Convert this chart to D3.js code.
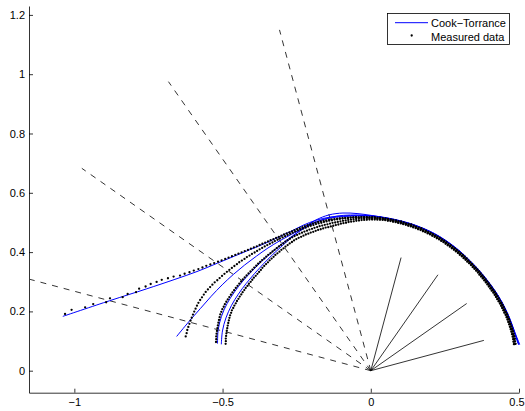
<!DOCTYPE html>
<html>
<head>
<meta charset="utf-8">
<script src="https://cdn.jsdelivr.net/npm/d3@7"></script>
<style>
  body { margin: 0; background: #fff; }
  text { font-family: "Liberation Sans", Arial, Helvetica, sans-serif; }
</style>
</head>
<body>
<div id="chart"></div>
<script>
// incidence angles (deg from normal) and the lengths of the drawn direction lines
const incidence = [15, 35, 55, 75];
const incidentLen = 0.395;
const reflectLen = 1.19;

// Cook-Torrance fit, radius every 5 deg from -80 to 80
const modelStart = -80, modelStep = 5;
const model15 = [0.512, 0.518, 0.520, 0.519, 0.516, 0.513, 0.511, 0.511, 0.513, 0.517, 0.524, 0.533, 0.541, 0.544, 0.540, 0.532, 0.524, 0.518, 0.514, 0.512, 0.510, 0.508, 0.505, 0.502, 0.499, 0.497, 0.496, 0.496, 0.497, 0.498, 0.499, 0.501, 0.506];
const model35 = [0.525, 0.533, 0.536, 0.535, 0.531, 0.527, 0.523, 0.521, 0.521, 0.523, 0.526, 0.530, 0.534, 0.535, 0.532, 0.527, 0.522, 0.518, 0.515, 0.513, 0.511, 0.509, 0.506, 0.503, 0.500, 0.498, 0.497, 0.497, 0.498, 0.499, 0.500, 0.502, 0.507];
const model55 = [0.665, 0.636, 0.612, 0.594, 0.579, 0.566, 0.555, 0.546, 0.540, 0.535, 0.532, 0.533, 0.535, 0.533, 0.528, 0.524, 0.521, 0.518, 0.515, 0.513, 0.511, 0.509, 0.506, 0.503, 0.500, 0.498, 0.497, 0.497, 0.498, 0.499, 0.500, 0.502, 0.508];
const model75 = [1.055, 0.912, 0.806, 0.729, 0.672, 0.632, 0.601, 0.577, 0.559, 0.548, 0.542, 0.541, 0.540, 0.536, 0.530, 0.526, 0.523, 0.519, 0.516, 0.514, 0.512, 0.510, 0.507, 0.504, 0.501, 0.499, 0.498, 0.498, 0.499, 0.500, 0.501, 0.503, 0.510];

// measured data, radius every 1 deg from -79.5 to 79.5
const measStart = -79.5, measStep = 1;
const meas15 = [
  0.498, 0.499, 0.501, 0.502, 0.503, 0.504, 0.505, 0.506, 0.507, 0.508,
  0.509, 0.510, 0.510, 0.511, 0.510, 0.510, 0.509, 0.509, 0.508, 0.508,
  0.507, 0.507, 0.506, 0.506, 0.505, 0.505, 0.504, 0.504, 0.504, 0.503,
  0.503, 0.503, 0.503, 0.504, 0.504, 0.504, 0.504, 0.505, 0.505, 0.505,
  0.506, 0.506, 0.506, 0.507, 0.507, 0.508, 0.508, 0.509, 0.509, 0.510,
  0.510, 0.510, 0.509, 0.509, 0.509, 0.508, 0.508, 0.507, 0.507, 0.507,
  0.506, 0.506, 0.506, 0.505, 0.505, 0.505, 0.505, 0.505, 0.506, 0.506,
  0.506, 0.507, 0.507, 0.507, 0.508, 0.508, 0.509, 0.509, 0.509, 0.510,
  0.510, 0.510, 0.510, 0.510, 0.510, 0.510, 0.509, 0.509, 0.508, 0.508,
  0.507, 0.507, 0.506, 0.506, 0.505, 0.505, 0.504, 0.504, 0.503, 0.503,
  0.502, 0.502, 0.501, 0.501, 0.500, 0.500, 0.499, 0.499, 0.498, 0.498,
  0.497, 0.496, 0.496, 0.495, 0.495, 0.494, 0.494, 0.493, 0.493, 0.492,
  0.492, 0.491, 0.491, 0.491, 0.490, 0.490, 0.490, 0.490, 0.489, 0.489,
  0.489, 0.489, 0.489, 0.489, 0.489, 0.489, 0.489, 0.490, 0.490, 0.490,
  0.490, 0.490, 0.491, 0.491, 0.491, 0.491, 0.491, 0.492, 0.492, 0.492,
  0.492, 0.492, 0.492, 0.492, 0.492, 0.492, 0.492, 0.492, 0.491, 0.491
];
const meas35 = [
  0.531, 0.532, 0.534, 0.535, 0.536, 0.537, 0.538, 0.539, 0.540, 0.541,
  0.542, 0.542, 0.542, 0.541, 0.541, 0.540, 0.539, 0.538, 0.537, 0.536,
  0.535, 0.534, 0.533, 0.532, 0.531, 0.530, 0.529, 0.528, 0.527, 0.526,
  0.525, 0.525, 0.524, 0.524, 0.523, 0.523, 0.522, 0.522, 0.522, 0.521,
  0.521, 0.521, 0.521, 0.521, 0.521, 0.521, 0.522, 0.522, 0.522, 0.522,
  0.522, 0.521, 0.521, 0.520, 0.520, 0.519, 0.519, 0.518, 0.518, 0.517,
  0.517, 0.516, 0.516, 0.515, 0.515, 0.515, 0.514, 0.514, 0.514, 0.514,
  0.514, 0.514, 0.514, 0.514, 0.514, 0.514, 0.514, 0.514, 0.514, 0.514,
  0.514, 0.514, 0.513, 0.513, 0.512, 0.512, 0.511, 0.511, 0.510, 0.510,
  0.509, 0.509, 0.508, 0.508, 0.507, 0.507, 0.506, 0.506, 0.505, 0.505,
  0.504, 0.504, 0.503, 0.503, 0.502, 0.502, 0.501, 0.501, 0.500, 0.500,
  0.499, 0.498, 0.498, 0.497, 0.497, 0.496, 0.496, 0.495, 0.495, 0.494,
  0.494, 0.493, 0.493, 0.493, 0.492, 0.492, 0.492, 0.492, 0.491, 0.491,
  0.491, 0.491, 0.491, 0.491, 0.491, 0.491, 0.491, 0.492, 0.492, 0.492,
  0.492, 0.492, 0.493, 0.493, 0.493, 0.493, 0.493, 0.494, 0.494, 0.494,
  0.494, 0.494, 0.494, 0.494, 0.494, 0.494, 0.494, 0.494, 0.493, 0.493
];
const meas55 = [
  0.635, 0.634, 0.634, 0.633, 0.632, 0.631, 0.630, 0.629, 0.628, 0.627,
  0.626, 0.625, 0.623, 0.621, 0.619, 0.617, 0.614, 0.611, 0.608, 0.605,
  0.601, 0.598, 0.595, 0.592, 0.589, 0.586, 0.583, 0.580, 0.577, 0.575,
  0.572, 0.569, 0.567, 0.564, 0.562, 0.559, 0.557, 0.555, 0.553, 0.551,
  0.549, 0.547, 0.545, 0.544, 0.542, 0.541, 0.539, 0.538, 0.537, 0.536,
  0.535, 0.534, 0.533, 0.532, 0.531, 0.530, 0.530, 0.529, 0.528, 0.528,
  0.527, 0.526, 0.526, 0.525, 0.525, 0.524, 0.524, 0.523, 0.523, 0.522,
  0.522, 0.521, 0.521, 0.520, 0.520, 0.519, 0.519, 0.518, 0.518, 0.517,
  0.516, 0.516, 0.515, 0.515, 0.514, 0.514, 0.513, 0.513, 0.512, 0.512,
  0.511, 0.511, 0.510, 0.510, 0.509, 0.509, 0.508, 0.508, 0.507, 0.507,
  0.506, 0.506, 0.505, 0.505, 0.504, 0.504, 0.503, 0.503, 0.502, 0.502,
  0.501, 0.500, 0.500, 0.499, 0.499, 0.498, 0.498, 0.497, 0.497, 0.496,
  0.496, 0.495, 0.495, 0.495, 0.494, 0.494, 0.494, 0.494, 0.493, 0.493,
  0.493, 0.493, 0.493, 0.493, 0.493, 0.493, 0.493, 0.494, 0.494, 0.494,
  0.494, 0.494, 0.495, 0.495, 0.495, 0.495, 0.495, 0.496, 0.496, 0.496,
  0.496, 0.496, 0.496, 0.496, 0.496, 0.496, 0.496, 0.496, 0.495, 0.495
];
const meas75 = [
  1.049, 1.030, 0.987, 0.963, 0.922, 0.913, 0.873, 0.860, 0.835, 0.829,
  0.811, 0.798, 0.782, 0.769, 0.752, 0.737, 0.719, 0.708, 0.696, 0.686,
  0.675, 0.666, 0.658, 0.649, 0.641, 0.633, 0.626, 0.619, 0.613, 0.607,
  0.601, 0.596, 0.591, 0.586, 0.581, 0.577, 0.573, 0.569, 0.566, 0.563,
  0.560, 0.557, 0.555, 0.552, 0.550, 0.548, 0.546, 0.545, 0.543, 0.541,
  0.540, 0.539, 0.538, 0.537, 0.536, 0.536, 0.535, 0.534, 0.534, 0.533,
  0.532, 0.531, 0.530, 0.529, 0.528, 0.527, 0.526, 0.525, 0.524, 0.523,
  0.522, 0.521, 0.521, 0.520, 0.520, 0.519, 0.519, 0.518, 0.518, 0.517,
  0.518, 0.518, 0.517, 0.517, 0.516, 0.516, 0.515, 0.515, 0.514, 0.514,
  0.513, 0.514, 0.512, 0.511, 0.511, 0.512, 0.510, 0.509, 0.509, 0.510,
  0.508, 0.508, 0.507, 0.507, 0.506, 0.506, 0.505, 0.505, 0.504, 0.504,
  0.503, 0.502, 0.502, 0.501, 0.501, 0.500, 0.500, 0.499, 0.499, 0.498,
  0.498, 0.497, 0.497, 0.497, 0.496, 0.496, 0.496, 0.496, 0.495, 0.495,
  0.495, 0.495, 0.495, 0.495, 0.495, 0.495, 0.495, 0.496, 0.496, 0.496,
  0.496, 0.496, 0.497, 0.497, 0.497, 0.497, 0.497, 0.498, 0.498, 0.498,
  0.498, 0.498, 0.498, 0.498, 0.498, 0.498, 0.498, 0.498, 0.497, 0.497
];

const xTicks = [-1, -0.5, 0, 0.5];
const yTicks = [0, 0.2, 0.4, 0.6, 0.8, 1, 1.2];
const legendLabels = ["Cook\u2212Torrance", "Measured data"];

const models = [model15, model35, model55, model75];
const measured = [meas15, meas35, meas55, meas75];

const width = 525, height = 411;

const svg = d3.select("#chart").append("svg")
    .attr("width", width)
    .attr("height", height);

// axes are drawn with equal units (axis equal)
const x = d3.scaleLinear().domain([-1.153, 0.5]).range([29, 519]);
const y = d3.scaleLinear().domain([-0.0742, 1.230]).range([392.7, 6]);

const rad = d => d * Math.PI / 180;
// polar (angle from normal, radius) -> plot coords
const px = (t, r) => x(r * Math.sin(rad(t)));
const py = (t, r) => y(r * Math.cos(rad(t)));

// direction lines
incidence.forEach(function(a) {
    svg.append("line")
        .attr("x1", x(0)).attr("y1", y(0))
        .attr("x2", px(a, incidentLen)).attr("y2", py(a, incidentLen))
        .attr("stroke", "#000")
        .attr("stroke-width", 0.8);
    svg.append("line")
        .attr("x1", x(0)).attr("y1", y(0))
        .attr("x2", px(-a, reflectLen)).attr("y2", py(-a, reflectLen))
        .attr("stroke", "#000")
        .attr("stroke-width", 0.8)
        .attr("stroke-dasharray", "6,6");
});

const line = d3.line()
    .x(d => px(d.t, d.r))
    .y(d => py(d.t, d.r))
    .curve(d3.curveCatmullRom);

for (let i = 0; i < incidence.length; i++) {
    const mdata = models[i].map((r, j) => ({t: modelStart + j * modelStep, r: r}));
    svg.append("path")
        .datum(mdata)
        .attr("d", line)
        .attr("fill", "none")
        .attr("stroke", "#0000ff")
        .attr("stroke-width", 1);

    const ddata = measured[i].map((r, j) => ({t: measStart + j * measStep, r: r}));
    svg.append("g")
        .selectAll("circle")
        .data(ddata)
        .enter()
        .append("circle")
        .attr("cx", d => px(d.t, d.r))
        .attr("cy", d => py(d.t, d.r))
        .attr("r", 1.15)
        .attr("fill", "#000");
}

// axes (MATLAB style: ticks inside, no box)
const fmt = d3.format("~g");
const xAxis = svg.append("g")
    .attr("transform", "translate(0," + y.range()[0] + ")")
    .call(d3.axisBottom(x).tickValues(xTicks).tickFormat(fmt)
        .tickSizeInner(-4).tickSizeOuter(0).tickPadding(6));
const yAxis = svg.append("g")
    .attr("transform", "translate(" + x.range()[0] + ",0)")
    .call(d3.axisLeft(y).tickValues(yTicks).tickFormat(fmt)
        .tickSizeInner(-4).tickSizeOuter(0).tickPadding(4));

[xAxis, yAxis].forEach(function(g) {
    g.attr("font-size", 11)
        .attr("font-family", "'Liberation Sans', Arial, Helvetica, sans-serif");
    g.selectAll("path, line").attr("stroke", "#000").attr("stroke-width", 0.8);
    g.selectAll("text").attr("fill", "#000");
});
// keep the last x label inside the page
xAxis.selectAll(".tick text").filter(d => d === 0.5).attr("dx", -2.5);

// legend
const legend = svg.append("g");
legend.append("rect")
    .attr("x", 387.5).attr("y", 13.5)
    .attr("width", 122).attr("height", 31)
    .attr("fill", "#fff")
    .attr("stroke", "#000")
    .attr("stroke-width", 0.8);
legend.append("line")
    .attr("x1", 395).attr("x2", 428)
    .attr("y1", 22.7).attr("y2", 22.7)
    .attr("stroke", "#0000ff")
    .attr("stroke-width", 1);
legend.append("circle")
    .attr("cx", 411.7).attr("cy", 35.5)
    .attr("r", 1.15)
    .attr("fill", "#000");
legend.selectAll("text.lab")
    .data(legendLabels)
    .enter()
    .append("text")
    .attr("class", "lab")
    .attr("x", 431)
    .attr("y", (d, i) => 26.5 + i * 14)
    .attr("font-size", 11)
    .text(d => d);
</script>
</body>
</html>
